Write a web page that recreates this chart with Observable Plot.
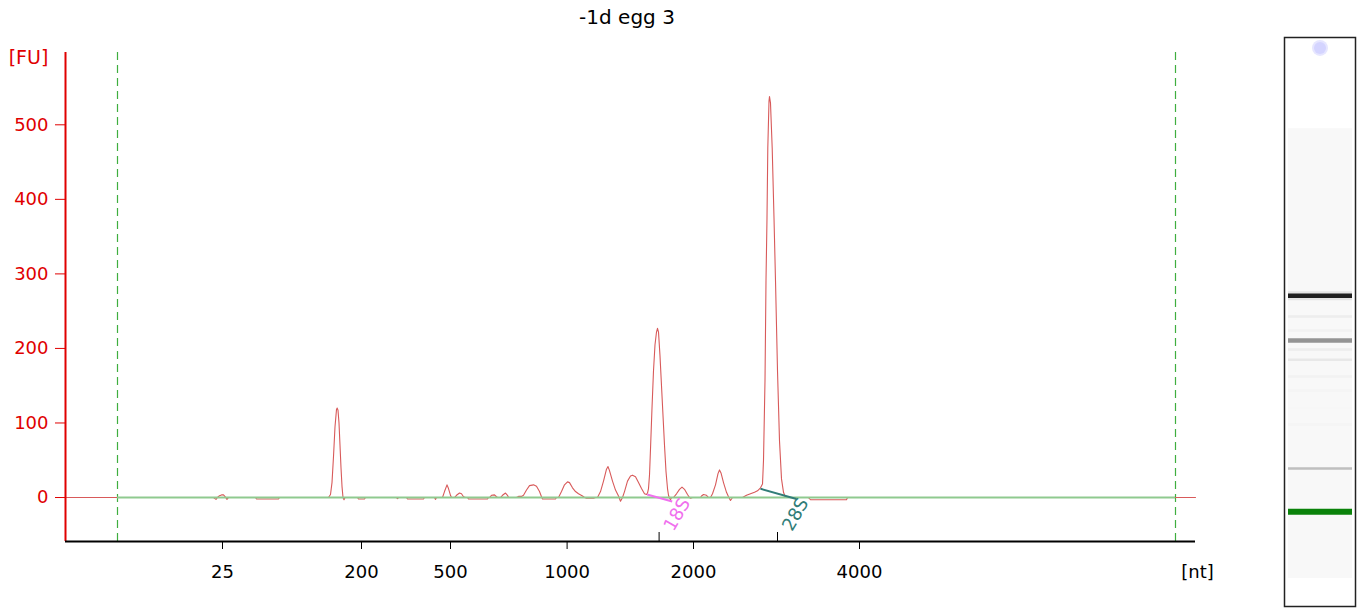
<!DOCTYPE html>
<html><head><meta charset="utf-8">
<script src="https://cdn.jsdelivr.net/npm/d3@7"></script>
<script src="https://cdn.jsdelivr.net/npm/@observablehq/plot@0.6"></script>
<style>
body{margin:0;background:#fff;font-family:"DejaVu Sans",sans-serif;}
#wrap{position:relative;width:1361px;height:609px;overflow:hidden;background:#fff;}
#title{position:absolute;top:5px;left:0;width:1254px;text-align:center;font-size:20px;color:#000;}
#main{position:absolute;top:36px;left:0;}
#gel{position:absolute;top:33px;left:1280px;}
</style></head><body>
<div id="wrap"><div id="title">-1d egg 3</div><div id="main"></div><div id="gel"></div></div>
<script>
// ---- data ----
const titleText = "-1d egg 3";
// migration time (s) and fluorescence (FU) of the electropherogram trace
const traceTime = [17.00, 24.40, 24.525, 24.60, 24.70, 24.80, 24.90, 25.00, 25.075, 25.15,
26.50, 26.55, 27.65, 27.70,
30.15, 30.25, 30.325, 30.40, 30.475, 30.55, 30.585, 30.625, 30.675, 30.725, 30.775, 30.825, 30.875, 30.925, 30.975,
31.60, 31.65, 31.95, 32.00,
33.55, 33.60, 33.65,
34.05, 34.10, 34.90, 34.95,
35.45, 35.50, 35.55,
35.85, 35.95, 36.075, 36.15, 36.25, 36.30,
36.45, 36.55, 36.70, 36.80, 36.90, 37.00,
37.10, 37.15, 38.10, 38.15,
38.20, 38.30, 38.45, 38.55, 38.60,
38.75, 38.85, 39.00, 39.10, 39.15,
39.55, 39.65, 39.80,
39.90, 40.05, 40.20, 40.40, 40.55, 40.70, 40.80, 40.85, 41.50, 41.55,
41.65, 41.80, 41.95, 42.10, 42.20, 42.35, 42.50, 42.65, 42.85, 42.95, 43.05, 43.40, 43.50,
43.60, 43.75, 43.90, 44.05, 44.125, 44.20, 44.35, 44.50, 44.65, 44.75, 44.85,
44.95, 45.10, 45.25, 45.35, 45.50, 45.65, 45.80, 45.95, 46.05,
46.10, 46.15, 46.20, 46.25, 46.325, 46.40, 46.475, 46.55, 46.60, 46.65, 46.725, 46.80, 46.875, 46.95, 47.025, 47.10, 47.15, 47.20, 47.25, 47.30,
47.40, 47.55, 47.70, 47.825, 47.95, 48.10, 48.20, 48.25, 48.35,
48.75, 48.80, 48.90, 49.05, 49.15,
49.25, 49.35, 49.50, 49.625, 49.70, 49.775, 49.90, 50.05, 50.15, 50.25, 50.35,
50.85, 51.05, 51.25, 51.45, 51.60, 51.75, 51.85, 51.90, 51.975, 52.025, 52.075, 52.115, 52.175, 52.20, 52.25, 52.335, 52.425, 52.50, 52.60, 52.70, 52.80, 52.90, 53.00,
54.15, 54.25, 56.05, 56.10,
73.50];
const traceFU = [0, 0, -2.5, 0, 2.5, 3.5, 3.5, 0.5, -2.5, 0,
0, -2, -2, 0,
0, 4, 20, 55, 95, 118, 120, 117, 100, 70, 40, 15, 0, -3, 0,
0, -2, -2, 0,
0, -1.5, 0,
0, -2, -2, 0,
0, -2.5, 0,
0, 8, 17, 12, 3, 0,
0, 3, 6, 5, 1, 0,
0, -2, -2, 0,
0, 3, 3.5, 1, 0,
0, 3, 6, 3, 0,
0, 1.5, 1.5,
3, 10, 16, 17, 15, 8, 1, -2, -2, 0,
0, 8, 17, 21, 20, 13, 8, 5, 2, 0, -1, -1, 0,
0, 8, 22, 38, 41.5, 36, 22, 10, 2, -5, 0,
8, 22, 29, 30, 28, 20, 12, 5, 4,
6, 12, 30, 65, 120, 170, 205, 222, 227, 222, 190, 150, 110, 70, 35, 12, 3, -1, -3, 0,
0, 5, 11, 14, 11, 4, 0, -1, 0,
0, 2, 4, 3, 0,
0, 5, 17, 32, 37, 33, 20, 7, 1, -4, 0,
0, 3, 5, 7, 9, 13, 18, 50, 157, 291, 375, 469, 532, 538, 529, 469, 375, 291, 170, 76, 25, 7, 0,
0, -3, -3, 0,
0];
const timeDomain = [17, 73.5];
const fuDomain = [-59, 597];
const fuTicks = [0, 100, 200, 300, 400, 500];
const ladderTimes = [24.85, 31.8, 36.25, 42.08, 48.4, 56.7];
const ladderLabels = ["25", "200", "500", "1000", "2000", "4000"];
const windowTimes = [19.6, 72.5];           // analysis window (dashed lines)
const markerNames = ["18S", "28S"];
const markerTimes = [46.68, 52.6];
const markerColors = ["#f070ee", "#317d78"];
// peak baselines drawn for 18S / 28S
const boundStartTime = [46.085, 51.75];
const boundStartFU = [4, 11.7];
const boundEndTime = [47.335, 53.55];
const boundEndFU = [-5.4, -2];
// pseudo-gel lane
const gelDomain = [13.35, 84.5];
const gelRegion = [16.85, 73.1];
const gelBandTimes = [52.2, 49.6, 47.85, 46.6, 45.5, 44.2, 42.1, 40.35, 38.2, 36.1, 30.6];
const gelBandIntensity = [0.88, 0.07, 0.05, 0.42, 0.07, 0.09, 0.05, 0.04, 0.03, 0.04, 0.25];
const gelMarkerTime = 25.2;
const gelWellTime = 83.2;

// ---- build ----
document.getElementById("title").textContent = titleText;
const trace = traceTime.map((t, i) => ({t, fu: traceFU[i]}));
const ladderLabel = new Map(ladderTimes.map((t, i) => [t, ladderLabels[i]]));
const RED = "#e00000";

const markerMarks = markerNames.flatMap((name, i) => [
  Plot.link([i], {x1: boundStartTime[i], y1: boundStartFU[i], x2: boundEndTime[i], y2: boundEndFU[i],
    stroke: markerColors[i], strokeWidth: 2}),
  Plot.text([name], {x: markerTimes[i], y: 0, dx: 18, dy: 17, rotate: -60,
    fill: markerColors[i], fontSize: 18})
]);

const main = Plot.plot({
  width: 1260, height: 573,
  marginLeft: 65, marginRight: 65, marginTop: 16, marginBottom: 68,
  style: {fontFamily: "DejaVu Sans", fontSize: "18px", background: "white", overflow: "visible"},
  x: {domain: timeDomain},
  y: {domain: fuDomain},
  marks: [
    Plot.ruleX(windowTimes, {stroke: "#3fae3f", strokeDasharray: "8,5", strokeWidth: 1.2}),
    Plot.line(trace, {x: "t", y: "fu", stroke: "#d85a5a", strokeWidth: 1.1}),
    Plot.ruleY([0], {x1: windowTimes[0], x2: windowTimes[1], stroke: "#8fca8f", strokeWidth: 2}),
    ...markerMarks,
    Plot.axisY({ticks: fuTicks, tickSize: 10, tickPadding: 7, color: RED, label: null, fontSize: 18}),
    Plot.ruleX([timeDomain[0]], {stroke: RED, strokeWidth: 2}),
    Plot.axisX({ticks: ladderTimes, tickFormat: d => ladderLabel.get(d), tickSize: 8, tickPadding: 16,
      label: null, color: "#000", fontSize: 18}),
    Plot.axisX({ticks: markerTimes, tickSize: -9, tickFormat: () => "", label: null, color: "#000"}),
    Plot.ruleY([fuDomain[0]], {stroke: "#000", strokeWidth: 2}),
    Plot.text(["[FU]"], {frameAnchor: "top-left", textAnchor: "middle", lineAnchor: "middle",
      dx: -37, dy: 5, fill: RED, fontSize: 19}),
    Plot.text(["[nt]"], {frameAnchor: "bottom-right", textAnchor: "middle", lineAnchor: "middle",
      dx: 2, dy: 31, fill: "#000", fontSize: 18})
  ]
});
document.getElementById("main").appendChild(main);

const gelBands = gelBandTimes.map((t, i) => ({t, v: gelBandIntensity[i]}));
const gray = v => { const c = Math.round(255 * (1 - v)); return `rgb(${c},${c},${c})`; };
const gel = Plot.plot({
  width: 80, height: 577,
  marginLeft: 4, marginRight: 5, marginTop: 4, marginBottom: 4,
  color: {type: "identity"},
  x: {domain: [0, 1], axis: null},
  y: {domain: gelDomain, axis: null},
  style: {background: "white", overflow: "visible"},
  marks: [
    Plot.rect([gelRegion], {x1: 0, x2: 1, y1: d => d[0], y2: d => d[1], insetLeft: 4, insetRight: 3, fill: "#f8f8f8"}),
    Plot.ruleY(gelBands.filter(d => d.v > 0.5), {y: "t", stroke: "#e4e4e4", strokeWidth: 9, insetLeft: 4, insetRight: 3}),
    Plot.ruleY(gelBands, {y: "t", stroke: d => gray(d.v), strokeWidth: d => d.v > 0.3 ? 4.5 : 2.5, insetLeft: 4, insetRight: 3}),
    Plot.ruleY([gelMarkerTime], {stroke: "#0a820a", strokeWidth: 6, insetLeft: 4, insetRight: 3}),
    Plot.dot([gelWellTime], {x: 0.5, y: d => d, r: 8, fill: "#e6e6ff"}),
    Plot.dot([gelWellTime], {x: 0.5, y: d => d, r: 6, fill: "#d4d4ff"}),
    Plot.frame({stroke: "#222", strokeWidth: 1.5})
  ]
});
document.getElementById("gel").appendChild(gel);
</script>
</body></html>
